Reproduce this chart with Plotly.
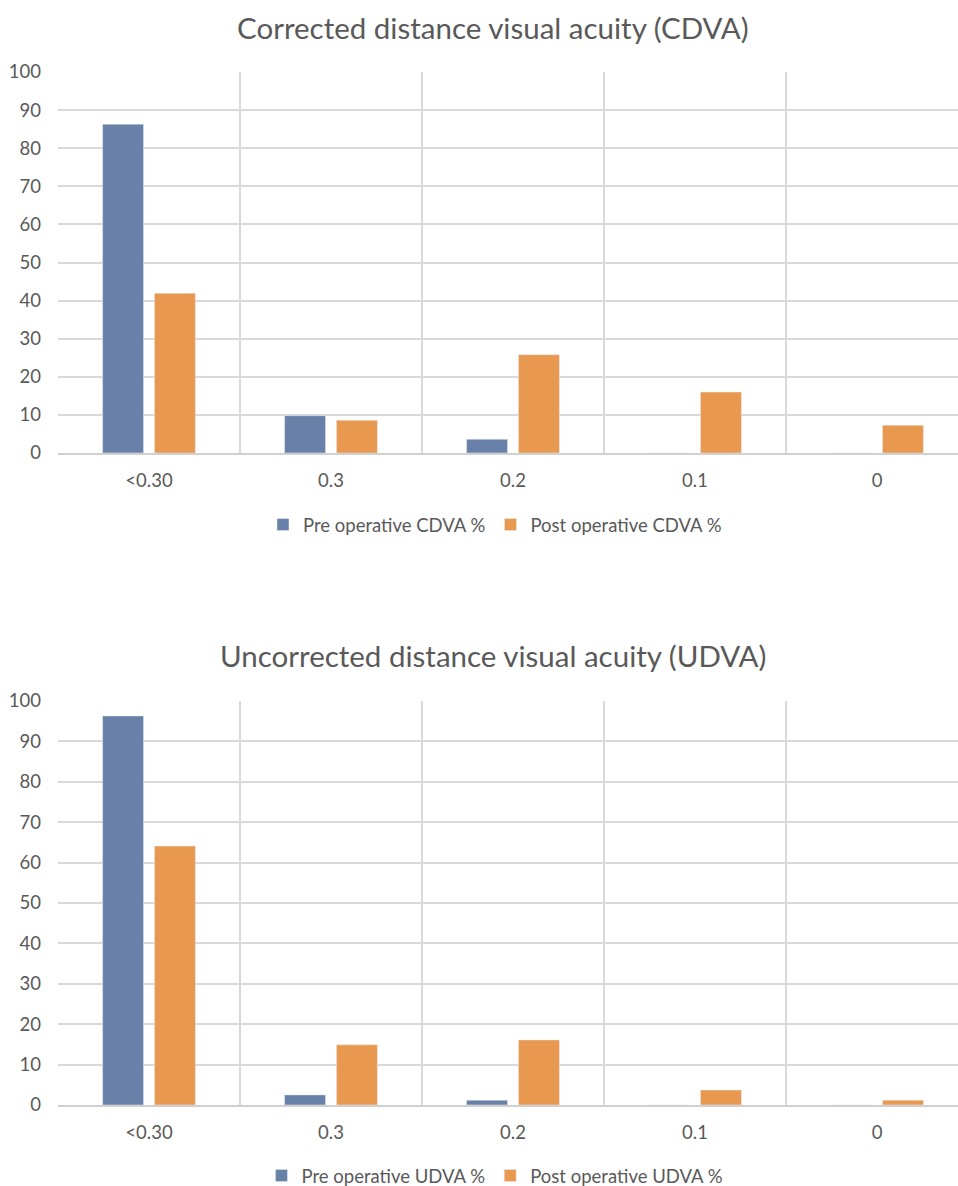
import plotly.graph_objects as go

categories = ["<0.30", "0.3", "0.2", "0.1", "0"]
pre_cdva = [86.3, 9.8, 3.6, 0, 0]
post_cdva = [41.9, 8.6, 25.8, 16.0, 7.3]
pre_udva = [96.3, 2.5, 1.2, 0, 0]
post_udva = [64.1, 14.9, 16.1, 3.7, 1.2]
title_top = "Corrected distance visual acuity (CDVA)"
title_bottom = "Uncorrected distance visual acuity (UDVA)"

BLUE = "#6980A8"
ORANGE = "#E99850"
GRID = "#D9D9D9"
TXT = "#595959"
FONT = "Lato"

W, H = 958, 1186
fig = go.Figure()

fig.add_trace(go.Bar(x=categories, y=pre_cdva, name="Pre operative CDVA %", marker_color=BLUE,
                     xaxis="x", yaxis="y", legend="legend"))
fig.add_trace(go.Bar(x=categories, y=post_cdva, name="Post operative CDVA %", marker_color=ORANGE,
                     xaxis="x", yaxis="y", legend="legend"))
fig.add_trace(go.Bar(x=categories, y=pre_udva, name="Pre operative UDVA %", marker_color=BLUE,
                     xaxis="x2", yaxis="y2", legend="legend2"))
fig.add_trace(go.Bar(x=categories, y=post_udva, name="Post operative UDVA %", marker_color=ORANGE,
                     xaxis="x2", yaxis="y2", legend="legend2"))

xdom = [58 / W, 1.0]
xcommon = dict(type="category", tickson="boundaries", showgrid=True, gridcolor=GRID, gridwidth=1.5,
               ticklen=0, showline=True, linecolor="#D0D0D0", linewidth=2, ticklabelstandoff=10,
               range=[-0.5, 4.5 - 10 / 182], tickfont=dict(size=18.5, color=TXT, family=FONT),
               fixedrange=True)
ycommon = dict(range=[0, 100], dtick=10, showgrid=True, gridcolor=GRID, gridwidth=1.5,
               zeroline=False, showline=False, ticks="", ticklabelstandoff=16,
               tickfont=dict(size=18.5, color=TXT, family=FONT))

fig.update_layout(
    width=W, height=H,
    margin=dict(l=0, r=0, t=0, b=0, autoexpand=False),
    paper_bgcolor="white", plot_bgcolor="white",
    barmode="group", bargap=0.43, bargroupgap=0.21,
    font=dict(family=FONT, color=TXT),
    xaxis=dict(domain=xdom, anchor="y", **xcommon),
    yaxis=dict(domain=[1 - 453 / H, 1 - 72 / H], anchor="x", **ycommon),
    xaxis2=dict(domain=xdom, anchor="y2", **xcommon),
    yaxis2=dict(domain=[1 - 1105 / H, 1 - 701 / H], anchor="x2", **ycommon),
    legend=dict(orientation="h", x=495 / W, xanchor="center", y=1 - 525 / H, yanchor="middle",
                font=dict(size=18.5, color=TXT, family=FONT), itemwidth=30),
    legend2=dict(orientation="h", x=495 / W, xanchor="center", y=1 - 1176 / H, yanchor="middle",
                 font=dict(size=18.5, color=TXT, family=FONT), itemwidth=30),
    annotations=[
        dict(text=title_top, x=493 / W, y=1 - 27 / H, xref="paper", yref="paper",
             showarrow=False, xanchor="center", yanchor="middle",
             font=dict(size=29.5, color=TXT, family=FONT)),
        dict(text=title_bottom, x=493 / W, y=1 - 655 / H, xref="paper", yref="paper",
             showarrow=False, xanchor="center", yanchor="middle",
             font=dict(size=29.5, color=TXT, family=FONT)),
    ],
)

fig.write_html(
    "out.html",
    config={"displayModeBar": False},
    post_script="document.documentElement.style.margin='0';document.body.style.margin='0';"
                "document.body.style.overflow='hidden';document.documentElement.style.overflow='hidden';",
)
